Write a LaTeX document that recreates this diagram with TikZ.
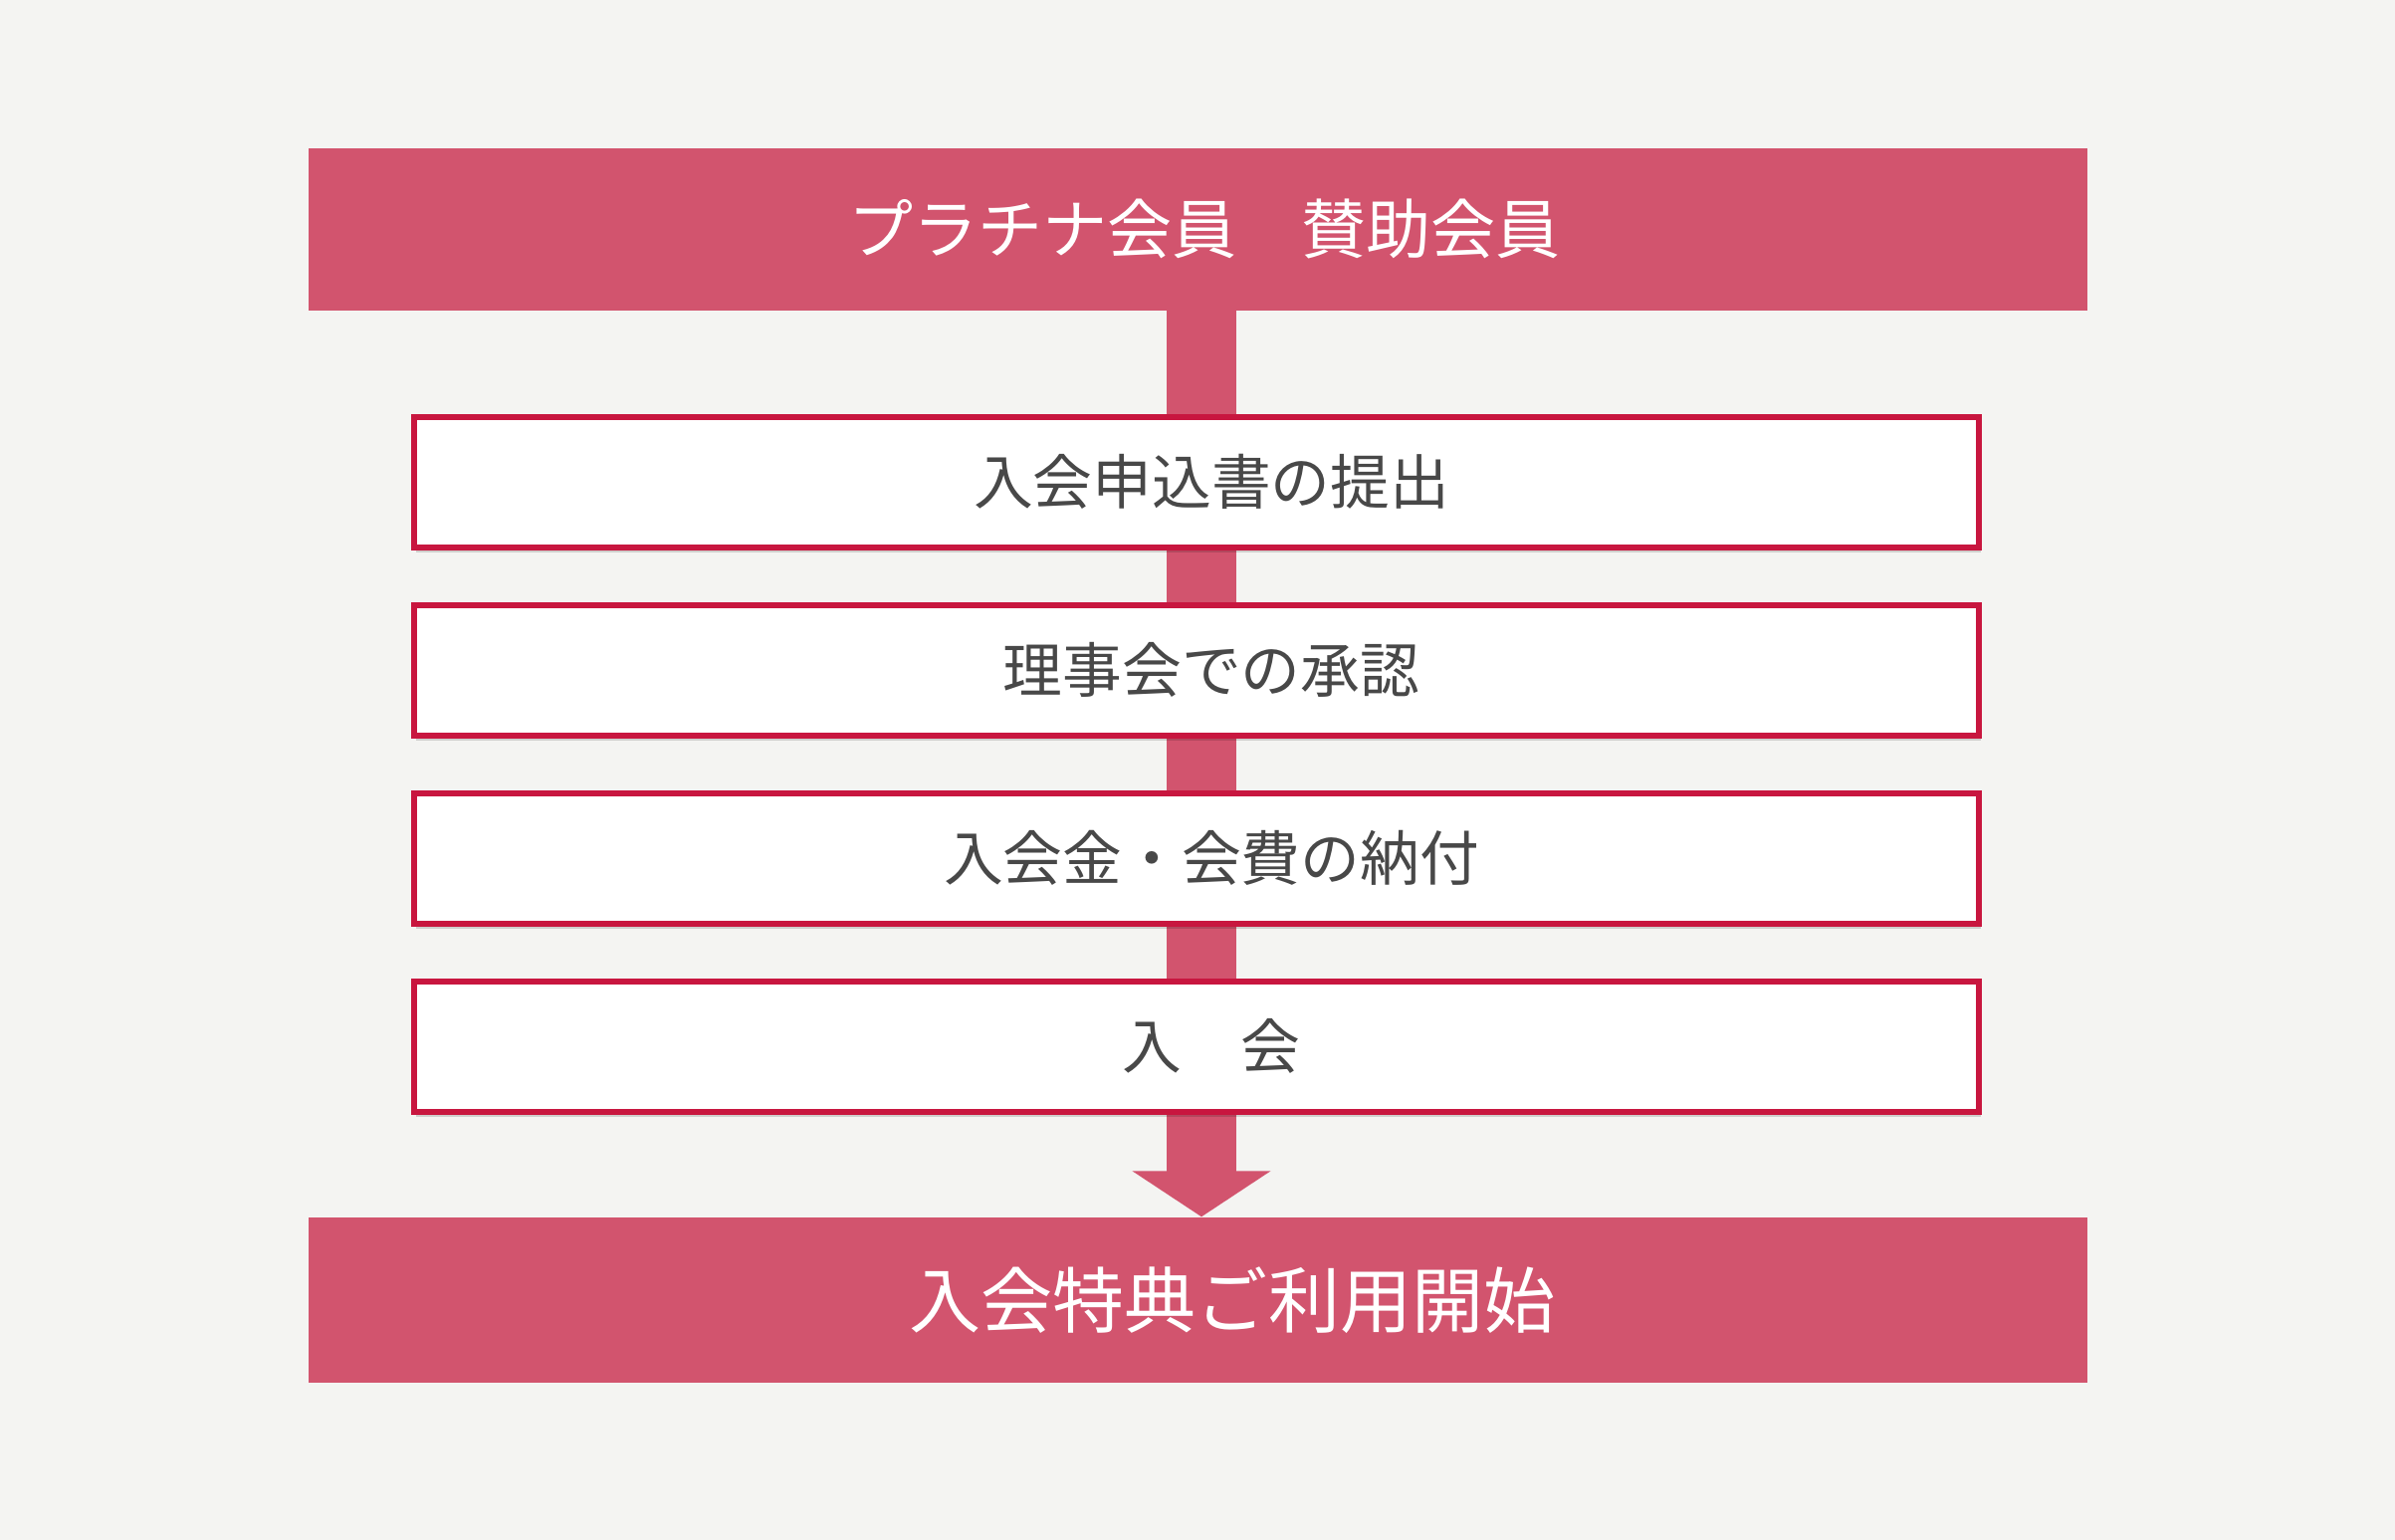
\documentclass[tikz,border=0pt]{standalone}
\usepackage{fontspec}
\setmainfont{Noto Sans CJK JP}
\usetikzlibrary{arrows.meta,backgrounds,shadows}
\definecolor{bggray}{HTML}{F4F4F2}
\definecolor{barred}{HTML}{D2546E}
\definecolor{boxred}{HTML}{C8163F}
\definecolor{txtgray}{HTML}{484848}

\begin{document}
\begin{tikzpicture}
  [bar/.style={fill=barred,text=white,minimum width=17.87cm,inner sep=0pt},
   stepbox/.style={draw=boxred,line width=0.06cm,fill=white,text=txtgray,
     minimum width=15.72cm,minimum height=1.31cm,inner sep=0pt,
     font=\fontsize{17pt}{18pt}\selectfont,execute at begin node=\kern0.3cm,
     drop shadow={shadow xshift=0.02cm,shadow yshift=-0.05cm,opacity=0.15,fill=black}}]
  \useasboundingbox (0,0) rectangle (24.06,-15.47);
  \node[bar,minimum height=1.63cm,font=\fontsize{18.5pt}{20pt}\selectfont] (n0) at (12.03,-2.30) {\kern0.14cm プラチナ会員　賛助会員};
  \node[stepbox] (n1) at (12.02,-4.84) {入会申込書の提出};
  \node[stepbox] (n2) at (12.02,-6.73) {理事会での承認};
  \node[stepbox] (n3) at (12.02,-8.62) {入会金・会費の納付};
  \node[stepbox] (n4) at (12.02,-10.51) {入　会};
  \node[bar,minimum height=1.66cm,font=\fontsize{20.5pt}{22pt}\selectfont] (n5) at (12.03,-13.06) {\kern0.7cm 入会特典ご利用開始};

  \begin{scope}[on background layer]
    \fill[bggray] (0,0) rectangle (24.06,-15.47);
    \draw[barred,line width=0.70cm,-{Triangle[width=1.37cm,length=0.46cm]}]
      ([xshift=0.04cm]n0.south) -- ([xshift=0.04cm]n5.north);
  \end{scope}
\end{tikzpicture}
\end{document}
